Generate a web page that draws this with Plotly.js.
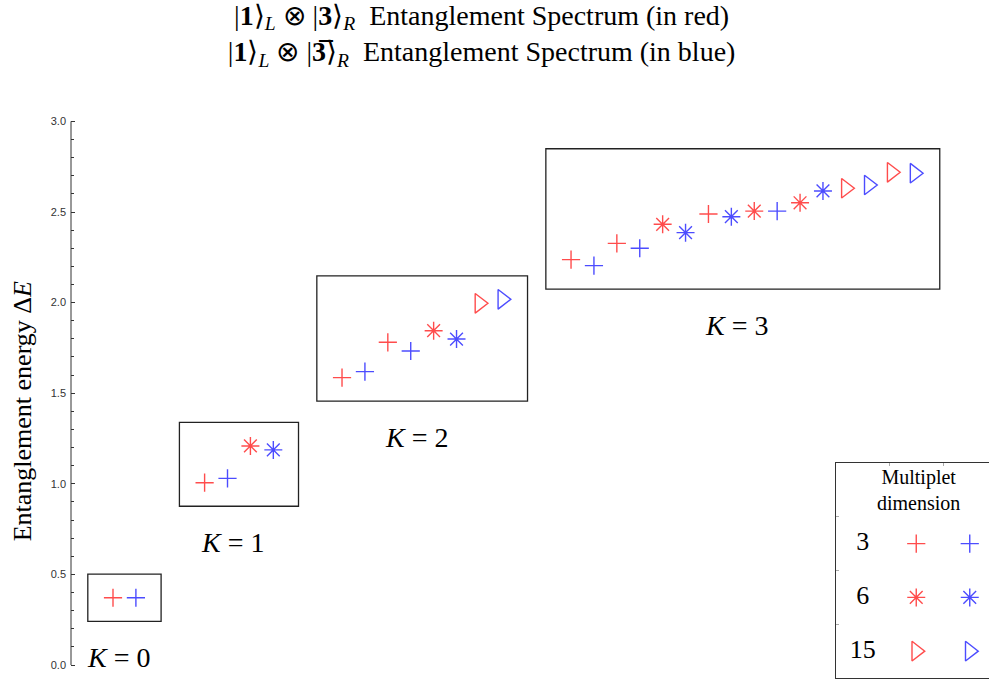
<!DOCTYPE html>
<html><head><meta charset="utf-8">
<script src="https://cdn.plot.ly/plotly-3.0.1.min.js"></script>
<style>html,body{margin:0;padding:0;background:#fff}</style>
</head><body>
<div id="chart" style="width:989px;height:682px"></div>
<script>
// ---- data ----
// x = ordinal position of the level along the plot, y = entanglement energy ΔE
// Red: |1>_L ⊗ |3>_R spectrum
const redX   = [0, 4, 6, 10, 12, 14, 16, 20, 22, 24, 26, 28, 30, 32, 34];
const redY   = [0.371, 1.006, 1.209, 1.586, 1.781, 1.845, 1.996, 2.237, 2.327, 2.432, 2.489, 2.505, 2.551, 2.631, 2.719];
const redDim = [3, 3, 6, 3, 3, 6, 15, 3, 3, 6, 3, 6, 6, 15, 15];
const redK   = [0, 1, 1, 2, 2, 2, 2, 3, 3, 3, 3, 3, 3, 3, 3];
// Blue: |1>_L ⊗ |3bar>_R spectrum
const blueX   = [1, 5, 7, 11, 13, 15, 17, 21, 23, 25, 27, 29, 31, 33, 35];
const blueY   = [0.371, 1.030, 1.187, 1.619, 1.733, 1.799, 2.018, 2.204, 2.300, 2.386, 2.474, 2.505, 2.616, 2.649, 2.714];
const blueDim = [3, 3, 6, 3, 3, 6, 15, 3, 3, 6, 6, 3, 6, 15, 15];
const blueK   = [0, 1, 1, 2, 2, 2, 2, 3, 3, 3, 3, 3, 3, 3, 3];

const kLevels = [0, 1, 2, 3];
const legendDims = [3, 6, 15];
const yTickVals = [0, 0.5, 1, 1.5, 2, 2.5, 3];
const yTickText = ['0.0', '0.5', '1.0', '1.5', '2.0', '2.5', '3.0'];

// ---- styling ----
const RED = '#ff0000', BLUE = '#0000ff';
const SYM = {3: 'cross-thin-open', 6: 'asterisk-open', 15: 'triangle-right-open'};
const SIZE = {3: 13, 6: 15, 15: 17};
const SERIF = 'Liberation Serif';

function markerFor(dims, color) {
  return {
    symbol: dims.map(d => SYM[d]),
    size: dims.map(d => SIZE[d]),
    color: color,
    line: {color: color, width: 1.4}
  };
}

const legendRowsY = legendDims.map((d, i) => legendDims.length - 0.5 - i);

const traces = [
  {type: 'scatter', mode: 'markers', x: redX, y: redY, marker: markerFor(redDim, RED),
   name: '|1⟩L⊗|3⟩R', showlegend: false, hoverinfo: 'y', cliponaxis: false},
  {type: 'scatter', mode: 'markers', x: blueX, y: blueY, marker: markerFor(blueDim, BLUE),
   name: '|1⟩L⊗|3̅⟩R', showlegend: false, hoverinfo: 'y', cliponaxis: false},
  // inset legend grid
  {type: 'scatter', mode: 'text', xaxis: 'x2', yaxis: 'y2',
   x: legendDims.map(() => 0.5), y: legendRowsY,
   text: legendDims.map(String), textfont: {family: SERIF, size: 26, color: '#000'},
   showlegend: false, hoverinfo: 'skip', cliponaxis: false},
  {type: 'scatter', mode: 'markers', xaxis: 'x2', yaxis: 'y2',
   x: legendDims.map(() => 1.5), y: legendRowsY,
   marker: markerFor(legendDims, RED), showlegend: false, hoverinfo: 'skip', cliponaxis: false},
  {type: 'scatter', mode: 'markers', xaxis: 'x2', yaxis: 'y2',
   x: legendDims.map(() => 2.5), y: legendRowsY,
   marker: markerFor(legendDims, BLUE), showlegend: false, hoverinfo: 'skip', cliponaxis: false}
];

// frames around each K group, computed from the data
const allX = redX.concat(blueX), allY = redY.concat(blueY), allK = redK.concat(blueK);
const PADX = 1.1, PADY = 0.13;
const shapes = [];
const annotations = [];
kLevels.forEach(k => {
  const xs = [], ys = [];
  allK.forEach((kk, i) => { if (kk === k) { xs.push(allX[i]); ys.push(allY[i]); } });
  const x0 = Math.min(...xs) - PADX, x1 = Math.max(...xs) + PADX;
  const y0 = Math.min(...ys) - PADY, y1 = Math.max(...ys) + PADY;
  shapes.push({type: 'rect', xref: 'x', yref: 'y', x0: x0, x1: x1, y0: y0, y1: y1,
               line: {color: '#222', width: 1.3}, fillcolor: 'rgba(0,0,0,0)'});
  annotations.push({xref: 'x', yref: 'y', x: (x0 + x1) / 2, y: y0, xshift: -6, yshift: -36,
                    text: '<i>K</i> = ' + k, showarrow: false, xanchor: 'center', yanchor: 'middle',
                    font: {family: SERIF, size: 28, color: '#000'}});
});
// y axis line from 0 to 3
shapes.push({type: 'line', xref: 'paper', yref: 'y', x0: 0, x1: 0, y0: 0, y1: 3,
             line: {color: '#333', width: 1}});

// y axis title
annotations.push({xref: 'paper', yref: 'y', x: 0, y: 1.40, xshift: -49, textangle: -90,
  text: 'Entanglement energy Δ<i>E</i>', showarrow: false, xanchor: 'center', yanchor: 'middle',
  font: {family: SERIF, size: 26, color: '#000'}});
// legend header
annotations.push({xref: 'x2', yref: 'y2', x: 1.55, y: 3.5, text: 'Multiplet<br>dimension',
  showarrow: false, xanchor: 'center', yanchor: 'middle', font: {family: SERIF, size: 20, color: '#000'}});

const minorVals = [];
for (let i = 1; i < 30; i++) { if (i % 5 !== 0) minorVals.push(i / 10); }

const layout = {
  width: 989, height: 682,
  margin: {l: 71, r: 0, t: 100, b: 0},
  paper_bgcolor: '#fff', plot_bgcolor: '#fff',
  font: {family: SERIF, color: '#000'},
  title: {
    text: '|<b>1</b>⟩<sub><i>L</i></sub> ⊗ |<b>3</b>⟩<sub><i>R</i></sub>\u2002Entanglement Spectrum (in red)<br>' +
          '|<b>1</b>⟩<sub><i>L</i></sub> ⊗ |<b>3\u0305</b>⟩<sub><i>R</i></sub>\u2002Entanglement Spectrum (in blue)',
    font: {family: SERIF, size: 28, color: '#000'},
    x: 0.487, xref: 'container', xanchor: 'center',
    y: 0.964, yref: 'container', yanchor: 'top'
  },
  xaxis: {visible: false, range: [-1.834, 38.25], fixedrange: true},
  yaxis: {
    range: [(665 - 682) / 181.2, (665 - 100) / 181.2],
    showgrid: false, zeroline: false, showline: false,
    tickmode: 'array', tickvals: yTickVals, ticktext: yTickText,
    ticks: 'inside', ticklen: 4, tickwidth: 1, tickcolor: '#333',
    ticklabelstandoff: 4,
    tickfont: {family: 'Liberation Sans', size: 11, color: '#333'},
    minor: {tickmode: 'array', tickvals: minorVals, ticks: 'inside', ticklen: 2.5, tickwidth: 1, tickcolor: '#333', showgrid: false}
  },
  xaxis2: {
    domain: [(836 - 71) / 918, 1], anchor: 'y2', range: [0, 153 / 53.5],
    side: 'top', showline: true, mirror: true, linecolor: '#333', linewidth: 1.2,
    showgrid: false, zeroline: false, showticklabels: false,
    tickmode: 'array', tickvals: [1, 2], ticks: 'inside', ticklen: 3, tickcolor: '#aaa'
  },
  yaxis2: {
    domain: [(682 - 678) / 582, (682 - 463) / 582], anchor: 'x2', range: [0, 4],
    showline: true, mirror: false, linecolor: '#333', linewidth: 1.2,
    showgrid: false, zeroline: false, showticklabels: false,
    tickmode: 'array', tickvals: [1, 2, 3], ticks: 'inside', ticklen: 3, tickcolor: '#aaa'
  },
  shapes: shapes,
  annotations: annotations,
  showlegend: false
};

Plotly.newPlot('chart', traces, layout, {displayModeBar: false, staticPlot: true});
</script>
</body></html>
